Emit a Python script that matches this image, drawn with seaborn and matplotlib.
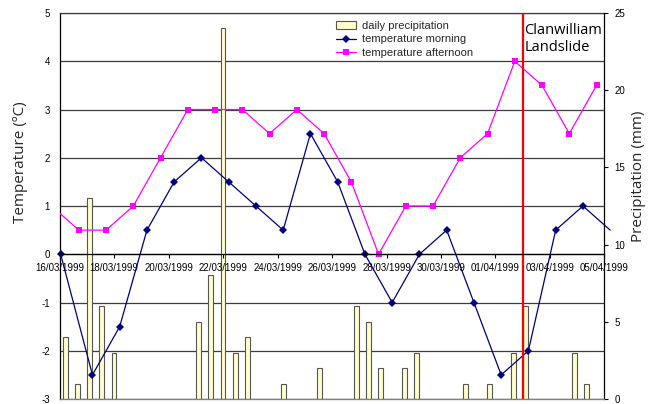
import matplotlib
matplotlib.use("Agg")
import matplotlib.pyplot as plt
import matplotlib.dates as mdates
import pandas as pd
import seaborn as sns

# ---------------- data ----------------
morning_times = [
    "1999-03-16 01:00", "1999-03-17 05:00", "1999-03-18 05:00", "1999-03-19 05:00",
    "1999-03-20 05:00", "1999-03-21 05:00", "1999-03-22 05:00", "1999-03-23 05:00",
    "1999-03-24 05:00", "1999-03-25 05:00", "1999-03-26 05:00", "1999-03-27 05:00",
    "1999-03-28 05:00", "1999-03-29 05:00", "1999-03-30 05:00", "1999-03-31 05:00",
    "1999-04-01 05:00", "1999-04-02 05:00", "1999-04-03 05:00", "1999-04-04 05:00",
    "1999-04-05 05:00",
]
morning_temp = [0, -2.5, -1.5, 0.5, 1.5, 2.0, 1.5, 1.0, 0.5, 2.5, 1.5,
                0, -1, 0, 0.5, -1, -2.5, -2, 0.5, 1.0, 0.5]

afternoon_times = [
    "1999-03-15 17:00", "1999-03-16 17:00", "1999-03-17 17:00", "1999-03-18 17:00",
    "1999-03-19 17:00", "1999-03-20 17:00", "1999-03-21 17:00", "1999-03-22 17:00",
    "1999-03-23 17:00", "1999-03-24 17:00", "1999-03-25 17:00", "1999-03-26 17:00",
    "1999-03-27 17:00", "1999-03-28 17:00", "1999-03-29 17:00", "1999-03-30 17:00",
    "1999-03-31 17:00", "1999-04-01 17:00", "1999-04-02 17:00", "1999-04-03 17:00",
    "1999-04-04 17:00",
]
afternoon_temp = [1.0, 0.5, 0.5, 1.0, 2.0, 3.0, 3.0, 3.0, 2.5, 3.0, 2.5,
                  1.5, 0, 1.0, 1.0, 2.0, 2.5, 4.0, 3.5, 2.5, 3.5]

precip_mm = [4, 1, 13, 6, 3, 0, 0, 0, 0, 0, 0, 5, 8, 24, 3, 4, 0, 0, 1, 0, 0, 2, 0,
             0, 6, 5, 2, 0, 2, 3, 0, 0, 0, 1, 0, 1, 0, 3, 6, 0, 0, 0, 3, 1, 0]
precip_cats = [str(i) for i in range(len(precip_mm))]

tick_dates = ["1999-03-16", "1999-03-18", "1999-03-20", "1999-03-22", "1999-03-24",
              "1999-03-26", "1999-03-28", "1999-03-30", "1999-04-01", "1999-04-03",
              "1999-04-05"]
x_start, x_end = "1999-03-16", "1999-04-05"
landslide_date = "1999-04-02"
temp_ticks = [-3, -2, -1, 0, 1, 2, 3, 4, 5]
precip_ticks = [0, 5, 10, 15, 20, 25]

# ---------------- frames ----------------
df_m = pd.DataFrame({"t": pd.to_datetime(morning_times), "v": morning_temp})
df_a = pd.DataFrame({"t": pd.to_datetime(afternoon_times), "v": afternoon_temp})
df_p = pd.DataFrame({"cat": precip_cats, "mm": precip_mm})
df_p = df_p[df_p["mm"] > 0]

sns.set_theme(style="white")
plt.rcParams["font.family"] = ["Liberation Sans", "DejaVu Sans"]
plt.rcParams["axes.unicode_minus"] = False

fig = plt.figure(figsize=(6.54, 4.04), dpi=100)
rect = [0.0910, 0.01238, 0.8333, 0.9554]
ax_t = fig.add_axes(rect, zorder=1)
ax_p = fig.add_axes(rect, zorder=2, label="precip")
ax_l = fig.add_axes(rect, zorder=3, label="lines")

xlim = (pd.Timestamp(x_start), pd.Timestamp(x_end))

# --- bottom axes: temperature grid + left axis
ax_t.set_xlim(*xlim)
ax_t.set_ylim(temp_ticks[0], temp_ticks[-1])
ax_t.set_yticks(temp_ticks)
ax_t.set_xticks([])
ax_t.grid(axis="y", color="#3c3c3c", linewidth=0.9)
ax_t.set_facecolor("white")
for s in ["right", "bottom"]:
    ax_t.spines[s].set_visible(False)
ax_t.spines["left"].set_color("black")
ax_t.spines["left"].set_linewidth(0.9)
ax_t.spines["top"].set_color("#3c3c3c")
ax_t.spines["top"].set_linewidth(0.9)
ax_t.tick_params(axis="y", length=0, pad=7, labelsize=7, colors="black")

# --- middle axes: precipitation bars
sns.barplot(data=df_p, x="cat", y="mm", order=precip_cats, ax=ax_p,
            color="#FFFFCC", saturation=1, edgecolor="#555555", linewidth=0.8,
            width=0.4, label="daily precipitation", zorder=2)
ax_p.set_xlim(-0.5, len(precip_cats) - 0.5)
ax_p.set_ylim(precip_ticks[0], precip_ticks[-1])
ax_p.set_yticks(precip_ticks)
ax_p.set_xticks([])
ax_p.set_xlabel("")
ax_p.set_ylabel("")
ax_p.yaxis.tick_right()
ax_p.patch.set_visible(False)
ax_p.grid(False)
for s in ["left", "top"]:
    ax_p.spines[s].set_visible(False)
ax_p.spines["right"].set_color("black")
ax_p.spines["right"].set_linewidth(0.9)
ax_p.spines["bottom"].set_color("#808080")
ax_p.spines["bottom"].set_linewidth(1.0)
ax_p.tick_params(axis="y", right=True, direction="out", length=3, width=0.8,
                 pad=4, labelsize=7, colors="black")
if ax_p.get_legend() is not None:
    ax_p.get_legend().remove()

# --- top axes: temperature lines
sns.lineplot(data=df_m, x="t", y="v", ax=ax_l, color="#000080", marker="D",
             markersize=3.6, markeredgewidth=0, linewidth=0.9,
             label="temperature morning", clip_on=False,
             markevery=list(range(len(morning_temp) - 1)))
sns.lineplot(data=df_a, x="t", y="v", ax=ax_l, color="#FF00FF", marker="s",
             markersize=4.6, markeredgewidth=0, linewidth=0.9,
             label="temperature afternoon")
ax_l.axvline(pd.Timestamp(landslide_date), color="#FF0000", linewidth=1.6)

ax_l.set_xlim(*xlim)
ax_l.set_ylim(temp_ticks[0], temp_ticks[-1])
ax_l.set_yticks([])
ax_l.set_xlabel("")
ax_l.set_ylabel("")
ax_l.set_xticks(pd.to_datetime(tick_dates))
ax_l.xaxis.set_major_formatter(mdates.DateFormatter("%d/%m/%Y"))
ax_l.tick_params(axis="x", bottom=True, direction="out", length=3, width=0.8,
                 pad=3, labelsize=7, colors="black")
ax_l.patch.set_visible(False)
ax_l.grid(False)
for s in ["left", "top", "right"]:
    ax_l.spines[s].set_visible(False)
ax_l.spines["bottom"].set_position(("data", 0))
ax_l.spines["bottom"].set_color("black")
ax_l.spines["bottom"].set_linewidth(0.9)

ax_l.text(0.853, 0.974, "Clanwilliam\nLandslide", transform=ax_l.transAxes,
          ha="left", va="top", fontsize=10.5, family=["Open Sans", "DejaVu Sans"],
          color="black", linespacing=1.15)

h_p, l_p = ax_p.get_legend_handles_labels()
h_l, l_l = ax_l.get_legend_handles_labels()
leg = ax_l.legend(h_p + h_l, l_p + l_l, loc="upper left",
                  bbox_to_anchor=(330 / 654, 1 - 15 / 404),
                  bbox_transform=fig.transFigure, frameon=False, fontsize=8,
                  borderpad=0, labelspacing=0.35, handlelength=1.8,
                  handletextpad=0.6, numpoints=1)

fig.text(21 / 654, 1 - 162 / 404, "Temperature (ºC)", rotation=90, ha="center",
         va="center", fontsize=11, family=["Open Sans", "DejaVu Sans"])
fig.text(638 / 654, 1 - 176 / 404, "Precipitation (mm)", rotation=90, ha="center",
         va="center", fontsize=11, family=["Open Sans", "DejaVu Sans"])

fig.savefig("out.png", dpi=100)
